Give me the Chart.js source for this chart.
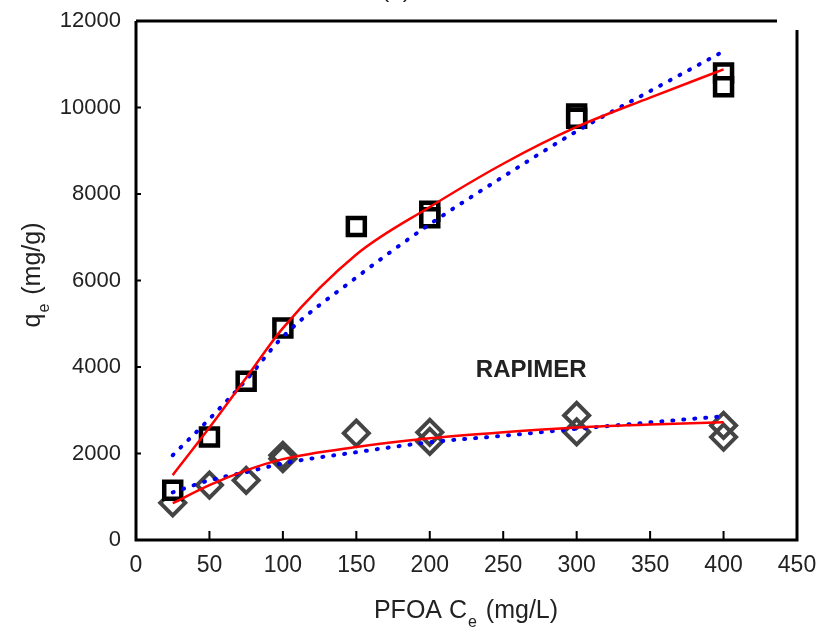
<!DOCTYPE html>
<html>
<head>
<meta charset="utf-8">
<script src="https://cdn.jsdelivr.net/npm/chart.js@4"></script>
<style>
  html, body { margin: 0; padding: 0; background: #fff; }
  #wrap { width: 821px; height: 634px; }
</style>
</head>
<body>
<div id="wrap"><canvas id="chart" width="821" height="634"></canvas></div>
<script>
const squareX = [25, 50, 75, 100, 150, 200, 200, 300, 300, 400, 400];
const squareY = [1150, 2380, 3670, 4900, 7250, 7600, 7450, 9850, 9750, 10800, 10480];
const diamondX = [25, 50, 75, 100, 100, 150, 200, 200, 300, 300, 400, 400];
const diamondY = [860, 1270, 1380, 1960, 1880, 2470, 2490, 2280, 2880, 2500, 2650, 2380];

// fitted curves, sampled along Ce
const fitX = [25, 50, 75, 100, 150, 200, 250, 300, 350, 400];
const squareFitRed = [1500, 2600, 3750, 4900, 6600, 7700, 8700, 9550, 10230, 10880];
const squareFitBlue = [1960, 2800, 3700, 4700, 6070, 7300, 8400, 9450, 10380, 11300];
const diamondFitRed = [850, 1270, 1610, 1870, 2150, 2350, 2490, 2600, 2670, 2720];
const diamondFitBlue = [1100, 1380, 1570, 1770, 2030, 2260, 2410, 2570, 2720, 2860];

const xTicks = [0, 50, 100, 150, 200, 250, 300, 350, 400, 450];
const yTicks = [0, 2000, 4000, 6000, 8000, 10000, 12000];

const FONT = "'Liberation Sans', Arial, sans-serif";

function pts(xs, ys) {
    return xs.map((x, i) => ({ x: x, y: ys[i] }));
}

// frame, inward ticks, titles with subscripts
const decorPlugin = {
    id: 'decor',
    afterDraw(chart) {
        const ctx = chart.ctx;
        const a = chart.chartArea;
        const xs = chart.scales.x;
        const ys = chart.scales.y;
        ctx.save();
        ctx.strokeStyle = '#000';
        ctx.lineWidth = 3;
        ctx.beginPath();
        ctx.moveTo(a.left, a.top);
        ctx.lineTo(a.left, a.bottom);
        ctx.lineTo(a.right, a.bottom);
        ctx.lineTo(a.right, a.top + 9);
        ctx.moveTo(a.left, a.top);
        ctx.lineTo(a.right - 20, a.top);
        ctx.stroke();

        ctx.lineWidth = 2;
        ctx.beginPath();
        xTicks.forEach(v => {
            const px = xs.getPixelForValue(v);
            if (v > 0 && v < 450) {
                ctx.moveTo(px, a.bottom);
                ctx.lineTo(px, a.bottom - 9);
            }
        });
        yTicks.forEach(v => {
            const py = ys.getPixelForValue(v);
            if (v > 0 && v < 12000) {
                ctx.moveTo(a.left, py);
                ctx.lineTo(a.left + 5, py);
            }
        });
        ctx.stroke();

        ctx.fillStyle = '#222';
        ctx.textBaseline = 'alphabetic';

        // x title: PFOA Ce (mg/L)
        const p1 = 'PFOA C', p3 = ' (mg/L)';
        ctx.font = '25px ' + FONT;
        const w1 = ctx.measureText(p1).width, w3 = ctx.measureText(p3).width;
        ctx.font = '16px ' + FONT;
        const w2 = ctx.measureText('e').width + 3;
        let x0 = 466 - (w1 + w2 + w3) / 2;
        const yb = 618;
        ctx.font = '25px ' + FONT;
        ctx.textAlign = 'left';
        ctx.fillText(p1, x0, yb);
        ctx.font = '16px ' + FONT;
        ctx.fillText('e', x0 + w1 + 1, yb + 9);
        ctx.font = '25px ' + FONT;
        ctx.fillText(p3, x0 + w1 + w2, yb);

        // y title: qe (mg/g)
        ctx.save();
        ctx.translate(40, 275);
        ctx.rotate(-Math.PI / 2);
        const q1 = 'q', q3 = ' (mg/g)';
        ctx.font = '25px ' + FONT;
        const v1 = ctx.measureText(q1).width, v3 = ctx.measureText(q3).width;
        ctx.font = '16px ' + FONT;
        const v2 = ctx.measureText('e').width + 3;
        let s0 = -(v1 + v2 + v3) / 2;
        ctx.font = '25px ' + FONT;
        ctx.fillText(q1, s0, 0);
        ctx.font = '16px ' + FONT;
        ctx.fillText('e', s0 + v1 + 1, 9);
        ctx.font = '25px ' + FONT;
        ctx.fillText(q3, s0 + v1 + v2, 0);
        ctx.restore();

        // label
        ctx.font = 'bold 24px ' + FONT;
        ctx.textAlign = 'center';
        ctx.textBaseline = 'middle';
        ctx.fillText('RAPIMER', xs.getPixelForValue(269), ys.getPixelForValue(3920));

        // cut-off panel title
        ctx.font = '24px ' + FONT;
        ctx.textBaseline = 'alphabetic';
        ctx.fillText('(b)', 396, -3);
        ctx.restore();
    }
};

const fitLine = (xs, ys, color, dotted) => ({
    data: pts(xs, ys),
    showLine: true,
    borderColor: color,
    borderWidth: dotted ? 4 : 2.5,
    borderDash: dotted ? [1, 10] : [],
    borderCapStyle: dotted ? 'round' : 'butt',
    pointRadius: 0,
    cubicInterpolationMode: 'monotone',
    fill: false
});

new Chart(document.getElementById('chart'), {
    type: 'scatter',
    data: {
        datasets: [
            fitLine(fitX, squareFitRed, '#ff0000', false),
            fitLine(fitX, squareFitBlue, '#0000ee', true),
            fitLine(fitX, diamondFitRed, '#ff0000', false),
            fitLine(fitX, diamondFitBlue, '#0000ee', true),
            {
                data: pts(squareX, squareY),
                pointStyle: 'rect', pointRadius: 12, borderWidth: 4.5,
                borderColor: '#000', backgroundColor: '#fff'
            },
            {
                data: pts(diamondX, diamondY),
                pointStyle: 'rectRot', pointRadius: 12.5, borderWidth: 4,
                borderColor: '#444', backgroundColor: 'rgba(255,255,255,0)'
            }
        ]
    },
    options: {
        responsive: false,
        animation: false,
        events: [],
        layout: { padding: { top: 21, right: 24, left: 0, bottom: 0 } },
        plugins: {
            legend: { display: false },
            tooltip: { enabled: false }
        },
        scales: {
            x: {
                type: 'linear', min: 0, max: 450,
                afterBuildTicks: s => { s.ticks = xTicks.map(v => ({ value: v })); },
                afterFit: s => { s.height = 94; s.paddingLeft = 0; s.paddingRight = 0; },
                grid: { display: false, drawTicks: false },
                border: { display: false },
                ticks: { color: '#222', padding: 12, maxRotation: 0, font: { family: FONT, size: 23 },
                         callback: v => String(v) }
            },
            y: {
                type: 'linear', min: 0, max: 12000,
                afterBuildTicks: s => { s.ticks = yTicks.map(v => ({ value: v })); },
                afterFit: s => { s.width = 136; s.paddingTop = 0; s.paddingBottom = 0; },
                grid: { display: false, drawTicks: false },
                border: { display: false },
                ticks: { color: '#222', padding: 15, font: { family: FONT, size: 22 },
                         callback: v => String(v) }
            }
        }
    },
    plugins: [decorPlugin]
});
</script>
</body>
</html>
